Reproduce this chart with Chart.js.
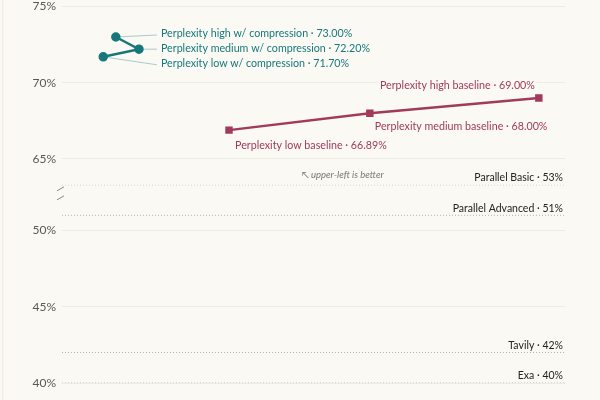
<!DOCTYPE html>
<html><head><meta charset="utf-8">
<script src="https://cdn.jsdelivr.net/npm/chart.js@4"></script>
<style>
html,body{margin:0;padding:0;background:#faf9f4;}
#wrap{width:600px;height:400px;position:relative;}
</style>
</head><body>
<div id="wrap"><canvas id="c" width="600" height="400"></canvas></div>
<script>
// ---- data ----
const compressionNames = ['Perplexity high w/ compression', 'Perplexity medium w/ compression', 'Perplexity low w/ compression'];
const compressionX = [10.7, 15.3, 8.2];
const compressionY = [73.0, 72.2, 71.7];

const baselineNames = ['Perplexity low baseline', 'Perplexity medium baseline', 'Perplexity high baseline'];
const baselineX = [33.2, 61.2, 94.8];
const baselineY = [66.89, 68.0, 69.0];

const refNames = ['Parallel Basic', 'Parallel Advanced', 'Tavily', 'Exa'];
const refValues = [53, 51, 42, 40];

const upperTicks = [65, 70, 75];
const lowerTicks = [40, 45, 50];
const xMin = 0, xMax = 100;
const upperRange = [63.3, 75];
const lowerRange = [40, 53];
const annotationText = '\u2196 upper-left is better';

// ---- styles ----
const TEAL = '#17787b';
const MAROON = '#a23a5b';
const BG = '#faf9f4';
const FONT = 'Lato, "Liberation Sans", sans-serif';

const datasets = [
  {
    label: 'compression',
    data: compressionX.map((x, i) => ({x, y: compressionY[i]})),
    yAxisID: 'yTop', borderColor: TEAL, backgroundColor: TEAL,
    borderWidth: 2.5, pointRadius: 3.5, pointStyle: 'circle', tension: 0
  },
  {
    label: 'baseline',
    data: baselineX.map((x, i) => ({x, y: baselineY[i]})),
    yAxisID: 'yTop', borderColor: MAROON, backgroundColor: MAROON,
    borderWidth: 2.5, pointRadius: 3.5, pointStyle: 'rect', tension: 0
  }
];
refValues.forEach((v, i) => {
  datasets.push({
    label: refNames[i],
    data: [{x: xMin, y: v}, {x: xMax, y: v}],
    yAxisID: 'yBot', borderColor: '#b5b3ad', borderWidth: 1, borderDash: [1, 2],
    pointRadius: 0
  });
});

function fixAxis(scale) { scale.width = 62; scale.paddingTop = 0; scale.paddingBottom = 0; }

const labelPlugin = {
  id: 'labels',
  beforeDraw(chart) {
    const ctx = chart.ctx;
    ctx.save();
    ctx.fillStyle = '#f1efe4';
    ctx.fillRect(2, 0, 1.5, chart.height);
    ctx.restore();
  },
  beforeDatasetsDraw(chart) {
    const ctx = chart.ctx, yT = chart.scales.yTop;
    const by = yT.bottom;
    ctx.save();
    ctx.strokeStyle = '#8a8883'; ctx.lineWidth = 1;
    [4, 13].forEach(d => {
      ctx.beginPath(); ctx.moveTo(57, by + d + 2); ctx.lineTo(64, by + d - 2); ctx.stroke();
    });
    ctx.restore();
  },
  afterDatasetsDraw(chart) {
    const ctx = chart.ctx, x = chart.scales.x, yT = chart.scales.yTop, yB = chart.scales.yBot;
    const ca = chart.chartArea;
    ctx.save();
    ctx.textBaseline = 'middle';
    ctx.font = '10.7px ' + FONT;
    // compression labels
    const cx = compressionX.map(v => x.getPixelForValue(v));
    const cy = compressionY.map(v => yT.getPixelForValue(v));
    const lx = Math.max(...cx) + 22;
    const dys = [-3, -1, 7];
    compressionNames.forEach((n, i) => {
      const ty = cy[i] + dys[i];
      ctx.strokeStyle = 'rgba(23,117,122,0.35)'; ctx.lineWidth = 1;
      ctx.beginPath(); ctx.moveTo(cx[i], cy[i]); ctx.lineTo(lx - 4, ty + 1); ctx.stroke();
      ctx.fillStyle = TEAL; ctx.textAlign = 'left';
      ctx.fillText(n + ' \u00b7 ' + compressionY[i].toFixed(2) + '%', lx, ty);
    });
    // baseline labels
    const offs = [[6, 15, 'left'], [5, 13, 'left'], [-4, -12, 'right']];
    baselineNames.forEach((n, i) => {
      const px = x.getPixelForValue(baselineX[i]), py = yT.getPixelForValue(baselineY[i]);
      const t = n + ' \u00b7 ' + baselineY[i].toFixed(2) + '%';
      const w = ctx.measureText(t).width;
      const [dx, dy, al] = offs[i];
      const left = al === 'left' ? px + dx : px + dx - w;
      ctx.fillStyle = BG;
      ctx.fillRect(left - 2, py + dy - 7, w + 4, 14);
      ctx.fillStyle = MAROON; ctx.textAlign = 'left';
      ctx.fillText(t, left, py + dy);
    });
    // reference labels
    ctx.font = '10.5px ' + FONT;
    ctx.fillStyle = '#242320'; ctx.textAlign = 'right';
    refNames.forEach((n, i) => {
      ctx.fillText(n + ' \u00b7 ' + refValues[i] + '%', ca.right - 2, yB.getPixelForValue(refValues[i]) - 7);
    });
    // annotation
    ctx.font = 'italic 9.5px ' + FONT;
    ctx.fillStyle = '#77756f'; ctx.textAlign = 'center';
    ctx.fillText(annotationText, x.getPixelForValue(55.8), yT.getPixelForValue(63.95));
    ctx.restore();
  }
};

const axisCommon = {
  type: 'linear', position: 'left', stack: 'y',
  border: {display: false},
  grid: {color: '#ecebe4', drawTicks: false, lineWidth: 1},
  ticks: {color: '#5a5854', padding: 6, font: {size: 12, family: FONT}, callback: v => v + '%'},
  afterFit: fixAxis
};

new Chart(document.getElementById('c'), {
  type: 'line',
  data: {datasets},
  options: {
    responsive: false, animation: false,
    layout: {padding: {top: 3, right: 35, bottom: 17, left: 0}},
    plugins: {legend: {display: false}, tooltip: {enabled: false}},
    scales: {
      x: {type: 'linear', min: xMin, max: xMax, display: false},
      yBot: Object.assign({}, axisCommon, {
        min: lowerRange[0], max: lowerRange[1], stackWeight: lowerRange[1] - lowerRange[0],
        afterBuildTicks: s => { s.ticks = lowerTicks.map(v => ({value: v})); }
      }),
      yTop: Object.assign({}, axisCommon, {
        min: upperRange[0], max: upperRange[1], stackWeight: upperRange[1] - upperRange[0],
        afterBuildTicks: s => { s.ticks = upperTicks.map(v => ({value: v})); }
      })
    }
  },
  plugins: [labelPlugin]
});
</script>
</body></html>
